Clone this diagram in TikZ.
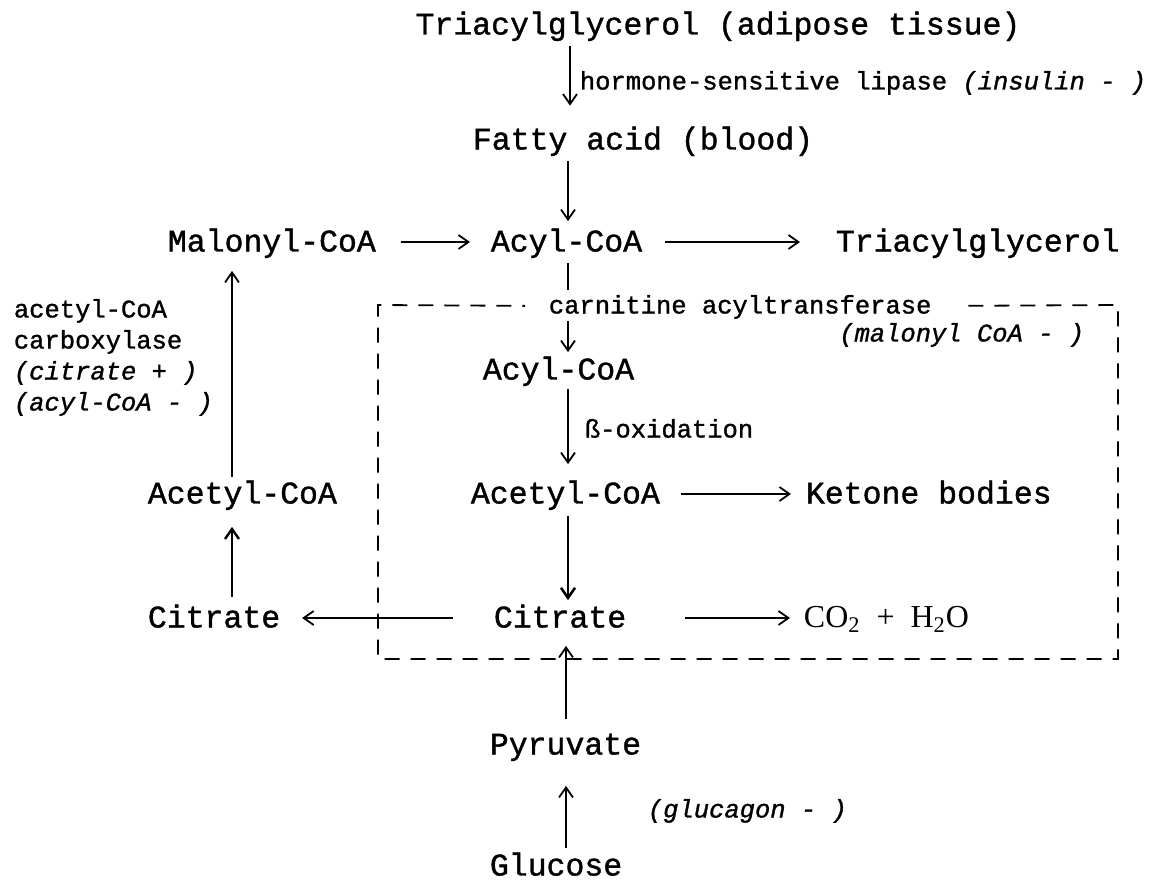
\documentclass[tikz,border=0pt]{standalone}
\usepackage{fontspec}
\setmonofont{Liberation Mono}[FakeBold=1.2]
\newfontfamily\chemfont{Liberation Serif}
\usetikzlibrary{arrows.meta}
\tikzset{
  lbl/.style={font=\ttfamily\fontsize{12.75}{15}\selectfont, text height=7.5pt},
  inh/.style={font=\ttfamily\itshape\fontsize{12.75}{15}\selectfont, text height=7.5pt},
  boxline/.style={line width=0.9pt, dash pattern=on 7.5pt off 5.5pt}
}
\begin{document}
\begin{tikzpicture}[x=0.5pt, y=-0.5pt, line width=0.9pt, >={Straight Barb[length=5pt,width=7pt]},
  every node/.style={inner sep=0pt, text height=9.5pt, text depth=0pt, font=\ttfamily\fontsize{15.75}{18}\selectfont}]
  \useasboundingbox (0,0) rectangle (1155,883);
  \coordinate (a) at (570,0);
  \coordinate (m) at (568,0);
  \coordinate (p) at (566,0);
  \coordinate (l) at (232,0);

  \node (A) at (718,25) {Triacylglycerol (adipose tissue)};
  \node[lbl, anchor=west] (B) at (579,82) {hormone-sensitive lipase \textit{(insulin - )}};
  \node[anchor=west] (C) at (472,140) {Fatty acid (blood)};

  \node[anchor=west] (D) at (167,242) {Malonyl-CoA};
  \node[anchor=west] (E) at (490,242) {Acyl-CoA};
  \node[anchor=west] (F) at (835,242) {Triacylglycerol};

  \node[lbl, anchor=west] (G) at (548,306) {carnitine acyltransferase};
  \node[inh, anchor=east] (J) at (1085,334) {(malonyl CoA - )};
  \node[anchor=west] (H) at (482,370) {Acyl-CoA};
  \node[lbl, anchor=west] (I) at (584,430) {ß-oxidation};
  \node[anchor=west] (K) at (470,494) {Acetyl-CoA};
  \node[anchor=west] (L) at (805,494) {Ketone bodies};
  \node[anchor=west] (M) at (493,618) {Citrate};
  \node[anchor=west, font=\chemfont\fontsize{16}{18}\selectfont] (N) at (803,618) {CO\textsubscript{2} \ + \ H\textsubscript{2}O};

  \node[anchor=west] (O) at (147,618) {Citrate};
  \node[anchor=west] (P) at (147,494) {Acetyl-CoA};
  \node[lbl, anchor=west] (T1) at (13,310) {acetyl-CoA};
  \node[lbl, anchor=west] (T2) at (13,341) {carboxylase};
  \node[inh, anchor=west] (T3) at (13,372) {(citrate + )};
  \node[inh, anchor=west] (T4) at (13,403) {(acyl-CoA - )};

  \node[anchor=west] (Q) at (489,745) {Pyruvate};
  \node[inh, anchor=west] (S) at (647,810) {(glucagon - )};
  \node[anchor=west] (R) at (489,866) {Glucose};

  \draw[boxline, shorten <=18pt, shorten >=11.5pt] (G.east) -- (1118,305) -- (1118,659) -- (378,659) -- (378,305) -- (G.west);

  \draw[->, shorten <=5.25pt, shorten >=12pt] (A.south -| a) -- (C.north -| a);
  \draw[->, shorten <=5.25pt, shorten >=5.25pt] (C.south -| m) -- (E.north -| m);
  \draw[->, shorten <=12pt, shorten >=10pt] (D.east) -- (E.west);
  \draw[->, shorten <=11pt, shorten >=17.5pt] (E.east) -- (F.west);
  \draw[shorten <=5.25pt, shorten >=3.75pt] (E.south -| m) -- (G.north -| m);
  \draw[->, shorten <=3.25pt, shorten >=3.75pt] (G.south -| m) -- (H.north -| m);
  \draw[->, shorten <=4.25pt, shorten >=9.75pt] (H.south -| m) -- (K.north -| m);
  \draw[->, shorten <=10pt, shorten >=7pt] (K.east) -- (L.west);
  \draw[->, line width=1.3pt, shorten <=5.75pt, shorten >=3.75pt] (K.south -| m) -- (M.north -| m);
  \draw[->, shorten <=20pt, shorten >=10.5pt] (M.west) -- (O.east);
  \draw[->, shorten <=29pt, shorten >=6.5pt] (M.east) -- (N.west);
  \draw[->, shorten <=7.75pt, shorten >=8.75pt] (Q.north -| p) -- (M.south -| p);
  \draw[->, shorten <=4pt, shorten >=15.25pt] (R.north -| p) -- (Q.south -| p);
  \draw[->, line width=1.2pt, shorten <=5.25pt, shorten >=11.25pt] (O.north -| l) -- (P.south -| l);
  \draw[->, shorten <=3.25pt, shorten >=9.25pt] (P.north -| l) -- (D.south -| l);
\end{tikzpicture}
\end{document}
